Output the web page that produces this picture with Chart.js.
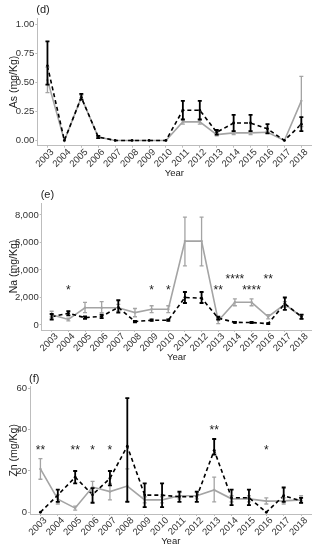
<!DOCTYPE html>
<html>
<head>
<meta charset="utf-8">
<script src="https://cdn.jsdelivr.net/npm/chart.js@4.4.0/dist/chart.umd.min.js"></script>
<style>
  html, body { margin: 0; padding: 0; background: #fff; }
  canvas { display: block; }
</style>
</head>
<body>
<canvas id="asChart" width="317" height="183"></canvas>
<canvas id="naChart" width="317" height="183"></canvas>
<canvas id="znChart" width="317" height="184"></canvas>
<script>
const years = [2003, 2004, 2005, 2006, 2007, 2008, 2009, 2010, 2011, 2012, 2013, 2014, 2015, 2016, 2017, 2018];

// ---- As (mg/Kg) ----
const asGrey      = [0.52, 0, 0.37, 0.03, 0, 0, 0, 0, 0.16, 0.16, 0.05, 0.065, 0.065, 0.07, 0, 0.34];
const asGreyLow   = [0.41, null, 0.35, 0.02, null, null, null, null, 0.14, 0.14, 0.04, 0.05, 0.05, 0.06, null, 0.12];
const asGreyHigh  = [0.63, null, 0.39, 0.04, null, null, null, null, 0.18, 0.18, 0.06, 0.08, 0.08, 0.08, null, 0.55];
const asBlack     = [0.64, 0, 0.37, 0.03, 0, 0, 0, 0, 0.26, 0.26, 0.07, 0.15, 0.15, 0.10, 0, 0.14];
const asBlackLow  = [0.48, null, 0.35, 0.02, null, null, null, null, 0.18, 0.18, 0.05, 0.08, 0.08, 0.06, null, 0.08];
const asBlackHigh = [0.85, null, 0.40, 0.04, null, null, null, null, 0.34, 0.34, 0.09, 0.22, 0.22, 0.14, null, 0.20];
const asTicks = [0, 0.25, 0.5, 0.75, 1];

// ---- Na (mg/Kg) ----
const naGrey      = [750, 400, 1250, 1250, 1250, 900, 1150, 1150, 6100, 6100, 300, 1650, 1650, 600, 1500, 600];
const naGreyLow   = [600, 300, 900, 900, 1000, 600, 900, 900, 4300, 4300, 100, 1400, 1400, 450, 1300, 450];
const naGreyHigh  = [1000, 500, 1650, 1700, 1500, 1200, 1400, 1400, 7850, 7850, 450, 1900, 1900, 750, 1700, 750];
const naBlack     = [600, 850, 530, 630, 1280, 250, 350, 350, 2000, 1950, 500, 190, 180, 100, 1550, 600];
const naBlackLow  = [400, 700, 450, 500, 900, 200, 300, 300, 1600, 1600, 400, 150, 140, 60, 1100, 450];
const naBlackHigh = [800, 1000, 620, 750, 1800, 300, 400, 400, 2400, 2400, 600, 230, 220, 140, 2000, 750];
const naTicks = [0, 2000, 4000, 6000, 8000];
const naStarYears = [2004, 2009, 2010, 2013, 2014, 2015, 2016];
const naStarLevel = [2700, 2700, 2700, 2700, 3470, 2700, 3470];
const naStarText  = ["*", "*", "*", "**", "****", "****", "**"];

// ---- Zn (mg/Kg) ----
const znGrey      = [21, 6.3, 2, 12.2, 10, 12.7, 6, 6, 8, 8, 10.8, 6.5, 6.5, 5.4, 5.5, 6];
const znGreyLow   = [16, 4, 1, 9, 6, 5.4, 4.5, 4.5, 6.5, 6.5, 5, 5, 5, 4, 4, 4.5];
const znGreyHigh  = [26, 8.5, 3, 15, 14, 21, 7.5, 7.5, 9.5, 9.5, 17, 8, 8, 7, 7, 8];
const znBlack     = [0, 8.3, 17, 8.5, 16.4, 32, 8.3, 8.3, 7.5, 7.5, 30, 7, 7, 0, 8, 5.5];
const znBlackLow  = [null, 5, 14, 4.6, 13, 5, 2.5, 2.5, 5, 5, 28, 3.5, 3.5, null, 5, 4.5];
const znBlackHigh = [null, 11, 20, 11.7, 20, 55.3, 14, 14, 10, 10, 35.5, 11, 11, null, 12, 7];
const znTicks = [0, 20, 40, 60];
const znStarYears = [2003, 2005, 2006, 2007, 2013, 2016];
const znStarLevel = [31, 31, 31, 31, 41, 31];
const znStarText  = ["**", "**", "*", "*", "**", "*"];

const FONT = "Arial, 'Liberation Sans', sans-serif";
const GREY = "#a4a4a4";
const AXIS = "#bdbdbd";

function drawBars(ctx, xs, ys, low, high, color, width) {
    ctx.strokeStyle = color;
    ctx.lineWidth = width;
    low.forEach((lo, i) => {
        if (lo === null) return;
        const x = xs.getPixelForValue(years[i]);
        const y1 = ys.getPixelForValue(lo);
        const y2 = ys.getPixelForValue(high[i]);
        ctx.beginPath();
        ctx.moveTo(x, y1); ctx.lineTo(x, y2);
        ctx.moveTo(x - 2, y1); ctx.lineTo(x + 2, y1);
        ctx.moveTo(x - 2, y2); ctx.lineTo(x + 2, y2);
        ctx.stroke();
    });
}

// error bars, asterisks and the panel texts
const panelExtras = {
    id: "panelExtras",
    afterDatasetsDraw(chart, args, opts) {
        const ctx = chart.ctx;
        const xs = chart.scales.x, ys = chart.scales.y;
        const area = chart.chartArea;
        ctx.save();
        drawBars(ctx, xs, ys, opts.greyLow, opts.greyHigh, GREY, 1.3);
        drawBars(ctx, xs, ys, opts.blackLow, opts.blackHigh, "#000", 1.8);

        ctx.fillStyle = "#222";
        ctx.font = "12px " + FONT;
        ctx.textAlign = "center";
        ctx.textBaseline = "alphabetic";
        (opts.starYears || []).forEach((yr, i) => {
            ctx.fillText(opts.starText[i], xs.getPixelForValue(yr), ys.getPixelForValue(opts.starLevel[i]) + 6);
        });

        ctx.fillStyle = "#222";
        ctx.textBaseline = "middle";
        ctx.font = "11px " + FONT;
        ctx.textAlign = "left";
        ctx.fillText(opts.tag, area.left - 1, area.top - 8);

        ctx.font = "9.5px " + FONT;
        ctx.textAlign = "center";
        ctx.fillText("Year", (area.left + area.right) / 2, area.bottom + 27.5);

        ctx.font = "10.5px " + FONT;
        ctx.translate(14, (area.top + area.bottom) / 2);
        ctx.rotate(-Math.PI / 2);
        ctx.fillText(opts.yTitle, 0, 0);
        ctx.restore();
    }
};

function makePanel(id, p) {
    new Chart(document.getElementById(id), {
        type: "line",
        data: {
            datasets: [{
                label: "black",
                data: years.map((yr, i) => ({ x: yr, y: p.black[i] })),
                borderColor: "#000",
                borderDash: [4, 3],
                borderWidth: 1.6,
                pointRadius: 1.4,
                pointBackgroundColor: "#000",
                pointBorderWidth: 0
            }, {
                label: "grey",
                data: years.map((yr, i) => ({ x: yr, y: p.grey[i] })),
                borderColor: GREY,
                borderWidth: 1.6,
                pointRadius: 1.2,
                pointBackgroundColor: GREY,
                pointBorderWidth: 0
            }]
        },
        options: {
            responsive: false,
            animation: false,
            layout: { padding: { top: p.top, right: 5.5, left: 0, bottom: 0 } },
            plugins: {
                legend: { display: false },
                tooltip: { enabled: false },
                panelExtras: p
            },
            scales: {
                x: {
                    type: "linear",
                    min: 2002.4,
                    max: 2018.6,
                    afterBuildTicks: s => { s.ticks = years.map(v => ({ value: v })); },
                    afterFit: s => { s.height = p.xh; },
                    ticks: {
                        autoSkip: false,
                        minRotation: 45,
                        maxRotation: 45,
                        labelOffset: 5,
                        padding: -1,
                        color: "#333",
                        font: { family: FONT, size: 9.5 },
                        callback: v => String(v)
                    },
                    grid: { drawOnChartArea: false, tickLength: 2, color: AXIS },
                    border: { color: AXIS }
                },
                y: {
                    min: p.min,
                    max: p.max,
                    afterBuildTicks: s => { s.ticks = p.ticks.map(v => ({ value: v })); },
                    afterFit: s => { s.width = p.yw; },
                    ticks: {
                        padding: 1,
                        color: "#333",
                        font: { family: FONT, size: 9.5 },
                        callback: p.fmt
                    },
                    grid: { drawOnChartArea: false, tickLength: 2, color: AXIS },
                    border: { color: AXIS }
                }
            }
        },
        plugins: [panelExtras]
    });
}

document.addEventListener("DOMContentLoaded", function () {

    makePanel("asChart", {
        tag: "(d)", yTitle: "As (mg/Kg)",
        grey: asGrey, greyLow: asGreyLow, greyHigh: asGreyHigh,
        black: asBlack, blackLow: asBlackLow, blackHigh: asBlackHigh,
        ticks: asTicks, fmt: v => v.toFixed(2),
        min: -0.045, max: 1.049, top: 18.3, yw: 37.3, xh: 37.3
    });

    makePanel("naChart", {
        tag: "(e)", yTitle: "Na (mg/Kg)",
        grey: naGrey, greyLow: naGreyLow, greyHigh: naGreyHigh,
        black: naBlack, blackLow: naBlackLow, blackHigh: naBlackHigh,
        starYears: naStarYears, starLevel: naStarLevel, starText: naStarText,
        ticks: naTicks, fmt: v => v.toLocaleString("en-US"),
        min: -364, max: 8870, top: 20, yw: 41.7, xh: 36
    });

    makePanel("znChart", {
        tag: "(f)", yTitle: "Zn (mg/Kg)",
        grey: znGrey, greyLow: znGreyLow, greyHigh: znGreyHigh,
        black: znBlack, blackLow: znBlackLow, blackHigh: znBlackHigh,
        starYears: znStarYears, starLevel: znStarLevel, starText: znStarText,
        ticks: znTicks, fmt: v => String(v),
        min: -0.85, max: 60.85, top: 20.7, yw: 30, xh: 36
    });

});
</script>
</body>
</html>
